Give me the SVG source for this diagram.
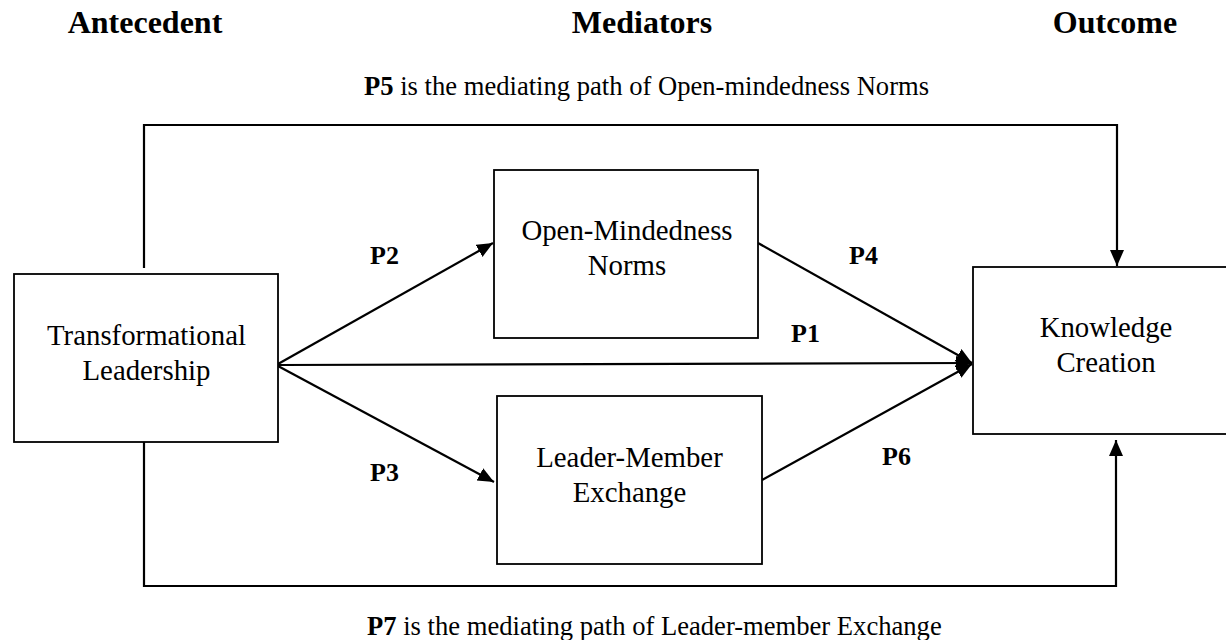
<svg xmlns="http://www.w3.org/2000/svg" width="1226" height="640" viewBox="0 0 1226 640">
<style>
text{font-family:"Liberation Serif","Times New Roman",serif;fill:#000}
.hdr{font-size:32px;font-weight:bold;text-anchor:middle}
.cap{font-size:26.6px}
.b{font-weight:bold}
.lbl{font-size:26px;font-weight:bold}
.node rect{fill:#fff;stroke:#000;stroke-width:1.8}
.node text{font-size:28.8px;text-anchor:middle}
.conn{fill:none;stroke:#000;stroke-width:2.2}
</style>
<defs>
<marker id="ah" markerUnits="userSpaceOnUse" markerWidth="17" markerHeight="15" refX="16" refY="7" orient="auto">
<path d="M0,0 L16,7 L0,14 z" fill="#000"/>
</marker>
</defs>
<rect width="1226" height="640" fill="#fff"/>
<g id="headers">
<text class="hdr" x="145" y="33">Antecedent</text>
<text class="hdr" x="642" y="33">Mediators</text>
<text class="hdr" x="1115" y="33">Outcome</text>
</g>
<g id="captions">
<text class="cap" x="364" y="95"><tspan class="b">P5</tspan> is the mediating path of Open-mindedness Norms</text>
<text class="cap" x="367" y="635"><tspan class="b">P7</tspan> is the mediating path of Leader-member Exchange</text>
</g>
<g id="connectors">
<polyline class="conn" points="144,268 144,125 1117,125 1117,266" marker-end="url(#ah)"/>
<polyline class="conn" points="144,442 144,586 1116,586 1116,440" marker-end="url(#ah)"/>
<line class="conn" x1="278" y1="364" x2="493" y2="243" marker-end="url(#ah)"/>
<line class="conn" x1="278" y1="366" x2="494" y2="482" marker-end="url(#ah)"/>
<line class="conn" x1="278" y1="365" x2="972" y2="363" marker-end="url(#ah)"/>
<line class="conn" x1="758" y1="243" x2="972" y2="363" marker-end="url(#ah)"/>
<line class="conn" x1="762" y1="480" x2="972" y2="364" marker-end="url(#ah)"/>
</g>
<g id="labels">
<text class="lbl" x="370" y="264">P2</text>
<text class="lbl" x="849" y="264">P4</text>
<text class="lbl" x="791" y="342">P1</text>
<text class="lbl" x="370" y="481">P3</text>
<text class="lbl" x="882" y="465">P6</text>
</g>
<g id="transformational-leadership" class="node">
<rect x="14" y="274" width="264" height="168"/>
<text x="146.5" y="345">Transformational</text>
<text x="146.5" y="380">Leadership</text>
</g>
<g id="open-mindedness-norms" class="node">
<rect x="494" y="170" width="264" height="168"/>
<text x="627" y="240">Open-Mindedness</text>
<text x="627" y="275">Norms</text>
</g>
<g id="leader-member-exchange" class="node">
<rect x="497" y="396" width="265" height="168"/>
<text x="629.5" y="467">Leader-Member</text>
<text x="629.5" y="502">Exchange</text>
</g>
<g id="knowledge-creation" class="node">
<rect x="973" y="267" width="270" height="167"/>
<text x="1106" y="337">Knowledge</text>
<text x="1106" y="372">Creation</text>
</g>
</svg>
